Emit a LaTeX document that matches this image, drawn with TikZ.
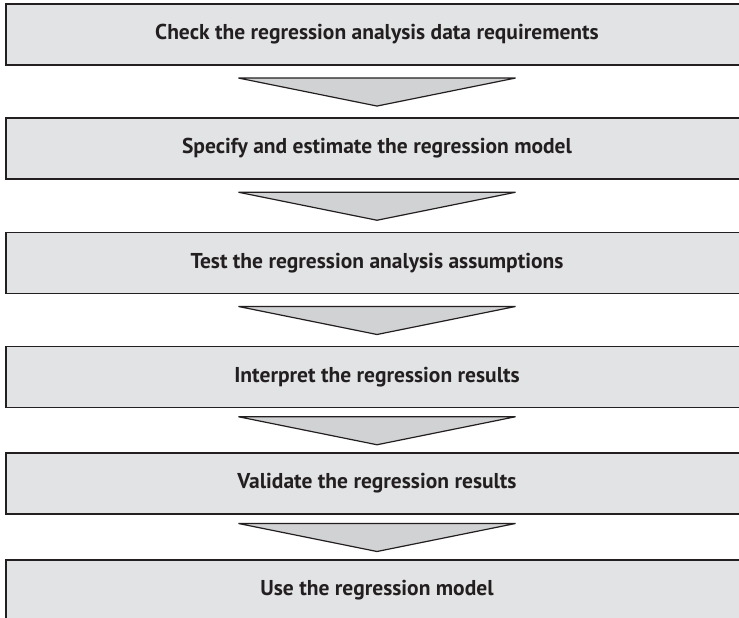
\documentclass[tikz,border=0pt]{standalone}
\usepackage{fontspec}
\setmainfont{PT Sans}
\usetikzlibrary{calc}
\definecolor{boxfill}{HTML}{E2E3E5}
\definecolor{trifill}{HTML}{D1D2D4}
\definecolor{ink}{HTML}{231F20}
\tikzset{
  stepbox/.style={draw=ink, fill=boxfill, line width=1.2pt, minimum width=742pt,
    minimum height=61pt, inner sep=0pt, text=ink,
    font=\fontsize{21.5}{24}\selectfont\bfseries},
  tri/.style={draw=ink, fill=trifill, line width=1.2pt, line join=miter}
}
\begin{document}
\begin{tikzpicture}[x=1pt,y=1pt]
\clip (0,0) rectangle (739,-618);
\fill[white] (0,0) rectangle (739,-618);
\node[stepbox] (b1) at (377,-34.6) {Check the regression analysis data requirements};
\node[stepbox] (b2) at (377,-148.5) {Specify and estimate the regression model};
\node[stepbox] (b3) at (377,-263) {Test the regression analysis assumptions};
\node[stepbox] (b4) at (377,-377) {Interpret the regression results};
\node[stepbox] (b5) at (377,-483.5) {Validate the regression results};
\node[stepbox] (b6) at (377,-590.5) {Use the regression model};
\foreach \a/\b [count=\i] in {b1/b2,b2/b3,b3/b4,b4/b5,b5/b6}{
  \path (\a.south) -- (\b.north) coordinate[midway] (m\i);
  \draw[tri] ($(m\i)+(-138.5,13.5)$) -- ($(m\i)+(138.5,13.5)$) -- ($(m\i)+(0,-14.5)$) -- cycle;
}
\end{tikzpicture}
\end{document}
